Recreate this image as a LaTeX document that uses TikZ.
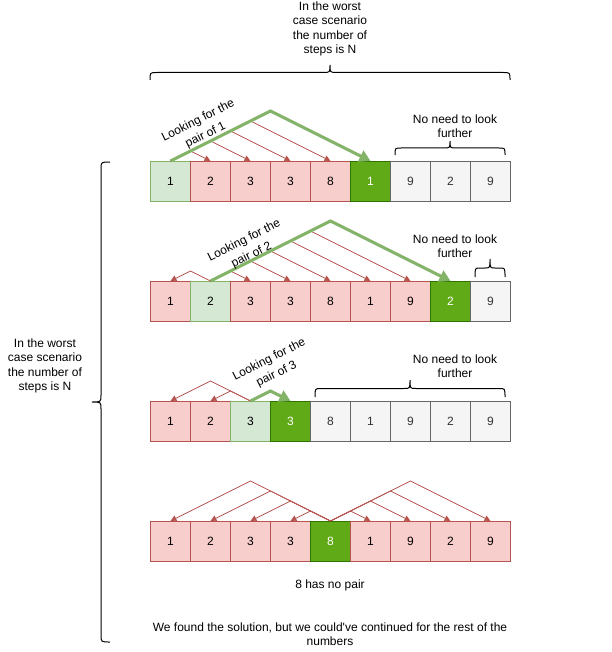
\documentclass[tikz,border=0pt]{standalone}
\usepackage{fontspec}
\setmainfont{Liberation Sans}[Ligatures=TeXOff]
\usetikzlibrary{calc,arrows.meta}
\definecolor{redln}{HTML}{B85450}
\definecolor{redbg}{HTML}{F8CECC}
\definecolor{grnln}{HTML}{82B366}
\definecolor{grnbg}{HTML}{D5E8D4}
\definecolor{hitln}{HTML}{2D7600}
\definecolor{hitbg}{HTML}{60A917}
\definecolor{gryln}{HTML}{666666}
\definecolor{grybg}{HTML}{F5F5F5}
\definecolor{grytx}{HTML}{333333}
\tikzset{
  cl/.style={draw,line width=1pt,minimum width=40pt,minimum height=40pt,inner sep=0pt,anchor=north west,font=\fontsize{12}{14.4}\selectfont},
  cr/.style={cl,draw=redln,fill=redbg},
  cg/.style={cl,draw=grnln,fill=grnbg},
  ch/.style={cl,draw=hitln,fill=hitbg,text=white},
  cn/.style={cl,draw=gryln,fill=grybg,text=grytx},
  ar/.style={-{Triangle[length=6pt,width=6pt]},line width=0.8pt,redln},
  arg/.style={-{Triangle[length=11pt,width=12pt]},line width=3pt,grnln},
  lb/.style={align=center,inner sep=0pt,font=\fontsize{12}{14.4}\selectfont},
  lk/.style={lb,rotate=26.57,font=\fontsize{12}{16.5}\selectfont},
  brc/.style={line width=1pt}
}
% curly bracket: x1, x2, y of ends, y of tip, curl
\newcommand{\hcurly}[5]{%
  \pgfmathsetmacro\ym{(#3+#4)/2}\pgfmathsetmacro\xm{(#1+#2)/2}%
  \draw[brc] (#1,#3) .. controls (#1,\ym) .. ({#1+#5},\ym) -- ({\xm-#5},\ym)
    .. controls (\xm,\ym) .. (\xm,#4) .. controls (\xm,\ym) .. ({\xm+#5},\ym)
    -- ({#2-#5},\ym) .. controls (#2,\ym) .. (#2,#3);}

\begin{document}
\begin{tikzpicture}[x=1pt,y=-1pt]
\useasboundingbox (0,0) rectangle (611,652);
% the four rows
\foreach \v/\s [count=\i] in {1/cg,2/cr,3/cr,3/cr,8/cr,1/ch,9/cn,2/cn,9/cn}
  \node[\s] (a\i) at ({110+40*\i},161) {\v};
\foreach \v/\s [count=\i] in {1/cr,2/cg,3/cr,3/cr,8/cr,1/cr,9/cr,2/ch,9/cn}
  \node[\s] (b\i) at ({110+40*\i},281) {\v};
\foreach \v/\s [count=\i] in {1/cr,2/cr,3/cg,3/ch,8/cn,1/cn,9/cn,2/cn,9/cn}
  \node[\s] (c\i) at ({110+40*\i},401) {\v};
\foreach \v/\s [count=\i] in {1/cr,2/cr,3/cr,3/cr,8/ch,1/cr,9/cr,2/cr,9/cr}
  \node[\s] (d\i) at ({110+40*\i},521) {\v};
% searching arrows
\foreach \j in {2,...,5}
  \draw[ar] (a1.north) -- ($(a1.north)!.5!(a\j.north)+(0,{-10*(\j-1)})$) -- (a\j.north);
\draw[arg] (a1.north) -- ($(a1.north)!.5!(a6.north)+(0,-50)$) -- (a6.north);
\foreach \j in {1,3,4,5,6,7}
  \draw[ar] (b2.north) -- ($(b2.north)!.5!(b\j.north)+(0,{-10*abs(\j-2)})$) -- (b\j.north);
\draw[arg] (b2.north) -- ($(b2.north)!.5!(b8.north)+(0,-60)$) -- (b8.north);
\foreach \j in {1,2}
  \draw[ar] (c3.north) -- ($(c3.north)!.5!(c\j.north)+(0,{-10*abs(\j-3)})$) -- (c\j.north);
\draw[arg] (c3.north) -- ($(c3.north)!.5!(c4.north)+(0,-10)$) -- (c4.north);
\foreach \j in {1,2,3,4,6,7,8,9}
  \draw[ar] (d5.north) -- ($(d5.north)!.5!(d\j.north)+(0,{-10*abs(\j-5)})$) -- (d\j.north);
% brackets
\hcurly{150}{510}{80}{65}{7}
\hcurly{395}{505}{155}{141}{6}
\hcurly{475}{505}{277}{259}{5}
\hcurly{315}{505}{397}{380}{6}
\draw[brc] (110,162) .. controls (101,162) .. (101,169) -- (101,395) .. controls (101,402) .. (92,402)
  .. controls (101,402) .. (101,409) -- (101,635) .. controls (101,642) .. (110,642);
% texts
\node[lb] (worst) at (330,29) {In the worst\\case scenario\\the number of\\steps is N};
\node[lb] (worstl) at (45,366) {In the worst\\case scenario\\the number of\\steps is N};
\node[lb] (nomore1) at (455,126) {No need to look\\further};
\node[lb] (nomore2) at (455,246) {No need to look\\further};
\node[lb] (nomore3) at (455,366) {No need to look\\further};
\node[lk] (look1) at (202,128) {Looking for the\\pair of 1};
\node[lk] (look2) at (248,248) {Looking for the\\pair of 2};
\node[lk] (look3) at (273,367) {Looking for the\\pair of 3};
\node[lb] (nopair) at (330,585) {8 has no pair};
\node[lb] (found) at (330,634) {We found the solution, but we could've continued for the rest of the\\numbers};
\end{tikzpicture}
\end{document}
